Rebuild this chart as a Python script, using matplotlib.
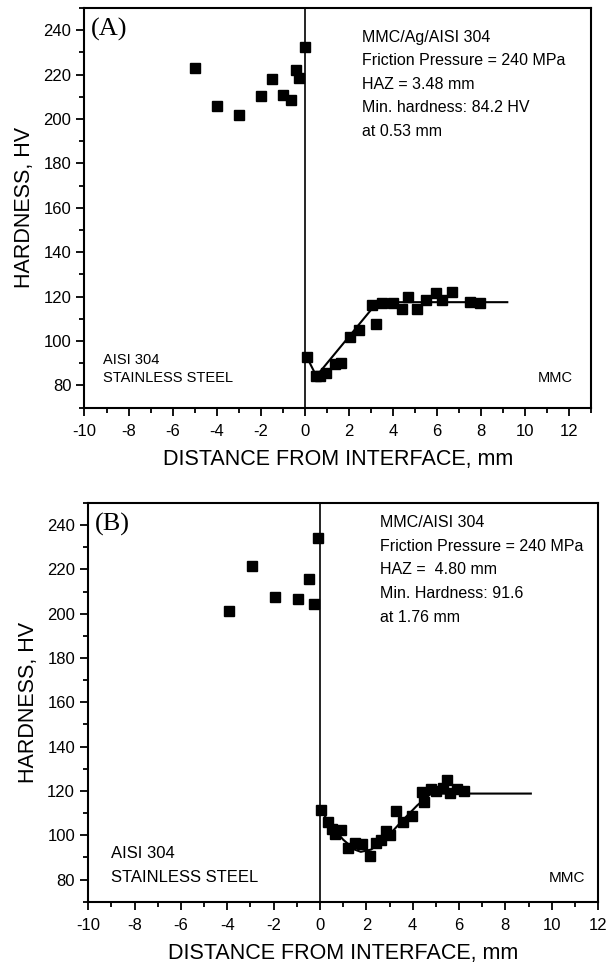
import matplotlib
matplotlib.use("Agg")
import matplotlib.pyplot as plt
from matplotlib.ticker import MultipleLocator

# ---------------- data ----------------
a_steel_x = [-5, -4, -3, -2, -1.5, -1, -0.6, -0.4, -0.25, 0.03]
a_steel_y = [223, 206, 202, 210.5, 218, 211, 208.5, 222, 218.5, 232.5]
a_mmc_x = [0.1, 0.52, 0.7, 0.96, 1.39, 1.66, 2.04, 2.48, 3.05, 3.24, 3.5,
           3.99, 4.42, 4.69, 5.1, 5.5, 5.96, 6.25, 6.69, 7.49, 7.98]
a_mmc_y = [92.7, 84.4, 84.1, 85.8, 89.6, 90.0, 101.7, 104.9, 116.4, 107.6, 117.1,
           117.1, 114.6, 119.8, 114.6, 118.3, 121.6, 118.6, 122.3, 117.4, 117.1]
a_fit_x = [0.1, 0.53, 3.3, 9.2]
a_fit_y = [92.7, 84.2, 117.5, 117.5]

b_steel_x = [-3.93, -2.95, -1.94, -0.96, -0.46, -0.25, -0.1]
b_steel_y = [201.4, 221.6, 207.7, 206.6, 215.9, 204.4, 234.4]
b_mmc_x = [0.03, 0.35, 0.5, 0.65, 0.9, 1.2, 1.5, 1.8, 2.15, 2.4, 2.65, 2.85, 3.0,
           3.3, 3.6, 3.95, 4.4, 4.5, 4.8, 5.0, 5.3, 5.5, 5.6, 5.9, 6.2]
b_mmc_y = [111.5, 106, 103, 100.5, 102.5, 94, 96.5, 96, 90.5, 96.5, 98, 102, 100,
           111, 106, 108.5, 119.5, 115, 121, 120, 121.5, 125, 119, 121, 120]
b_fit_x = [0.03, 0.5, 1.0, 1.5, 1.76, 2.2, 2.8, 3.5, 4.2, 4.8, 9.1]
b_fit_y = [111.5, 104, 98, 93.5, 92.5, 93.5, 98, 106, 113.5, 118.8, 118.8]

a_text = ["MMC/Ag/AISI 304", "Friction Pressure = 240 MPa", "HAZ = 3.48 mm",
          "Min. hardness: 84.2 HV", "at 0.53 mm"]
b_text = ["MMC/AISI 304", "Friction Pressure = 240 MPa", "HAZ =  4.80 mm",
          "Min. Hardness: 91.6", "at 1.76 mm"]

plt.rcParams['font.family'] = ['Liberation Sans', 'DejaVu Sans']
plt.rcParams['axes.unicode_minus'] = False

fig = plt.figure(figsize=(6.07, 9.63), dpi=100)


def style_axes(ax, xmax, xticks):
    ax.set_xlim(-10, xmax)
    ax.set_ylim(70, 250)
    ax.set_xticks(xticks)
    ax.set_yticks(range(80, 241, 20))
    ax.xaxis.set_minor_locator(MultipleLocator(1))
    ax.yaxis.set_minor_locator(MultipleLocator(10))
    ax.tick_params(which='both', direction='out', top=False, right=False,
                   width=1.3, labelsize=12)
    ax.tick_params(which='major', length=6)
    ax.tick_params(which='minor', length=3.5)
    ax.tick_params(axis='x', which='major', pad=6)
    for s in ax.spines.values():
        s.set_linewidth(1.5)
    ax.axvline(0, color='black', lw=1.2)
    ax.set_xlabel("DISTANCE FROM INTERFACE, mm", fontsize=15.5, labelpad=7)
    ax.set_ylabel("HARDNESS, HV", fontsize=15.5, labelpad=6)


# ---------------- panel A ----------------
axA = fig.add_axes([0.1392, 0.5767, 0.8344, 0.415])
style_axes(axA, 13, range(-10, 13, 2))
axA.plot(a_fit_x, a_fit_y, color='black', lw=1.5)
axA.plot(a_steel_x, a_steel_y, 's', color='black', ms=6.5)
axA.plot(a_mmc_x, a_mmc_y, 's', color='black', ms=6.5)
axA.text(0.012, 0.975, "(A)", transform=axA.transAxes, fontsize=19,
         family=['Liberation Serif', 'DejaVu Serif'], va='top', ha='left')
for i, t in enumerate(a_text):
    axA.text(0.548, 0.927 - i * 0.059, t, transform=axA.transAxes,
             fontsize=11.5, va='center', ha='left')
axA.text(0.037, 0.12, "AISI 304", transform=axA.transAxes, fontsize=10.5,
         va='center', ha='left')
axA.text(0.037, 0.075, "STAINLESS STEEL", transform=axA.transAxes, fontsize=10.5,
         va='center', ha='left')
axA.text(0.965, 0.075, "MMC", transform=axA.transAxes, fontsize=10.5,
         va='center', ha='right')

# ---------------- panel B ----------------
axB = fig.add_axes([0.1455, 0.0637, 0.8397, 0.414])
style_axes(axB, 12, range(-10, 13, 2))
axB.plot(b_fit_x, b_fit_y, color='black', lw=1.5)
axB.plot(b_steel_x, b_steel_y, 's', color='black', ms=6.5)
axB.plot(b_mmc_x, b_mmc_y, 's', color='black', ms=6.5)
axB.text(0.012, 0.975, "(B)", transform=axB.transAxes, fontsize=19,
         family=['Liberation Serif', 'DejaVu Serif'], va='top', ha='left')
for i, t in enumerate(b_text):
    axB.text(0.572, 0.952 - i * 0.06, t, transform=axB.transAxes,
             fontsize=11.5, va='center', ha='left')
axB.text(0.045, 0.12, "AISI 304", transform=axB.transAxes, fontsize=12,
         va='center', ha='left')
axB.text(0.045, 0.06, "STAINLESS STEEL", transform=axB.transAxes, fontsize=12,
         va='center', ha='left')
axB.text(0.975, 0.06, "MMC", transform=axB.transAxes, fontsize=11,
         va='center', ha='right')

fig.savefig("out.png", dpi=100)
